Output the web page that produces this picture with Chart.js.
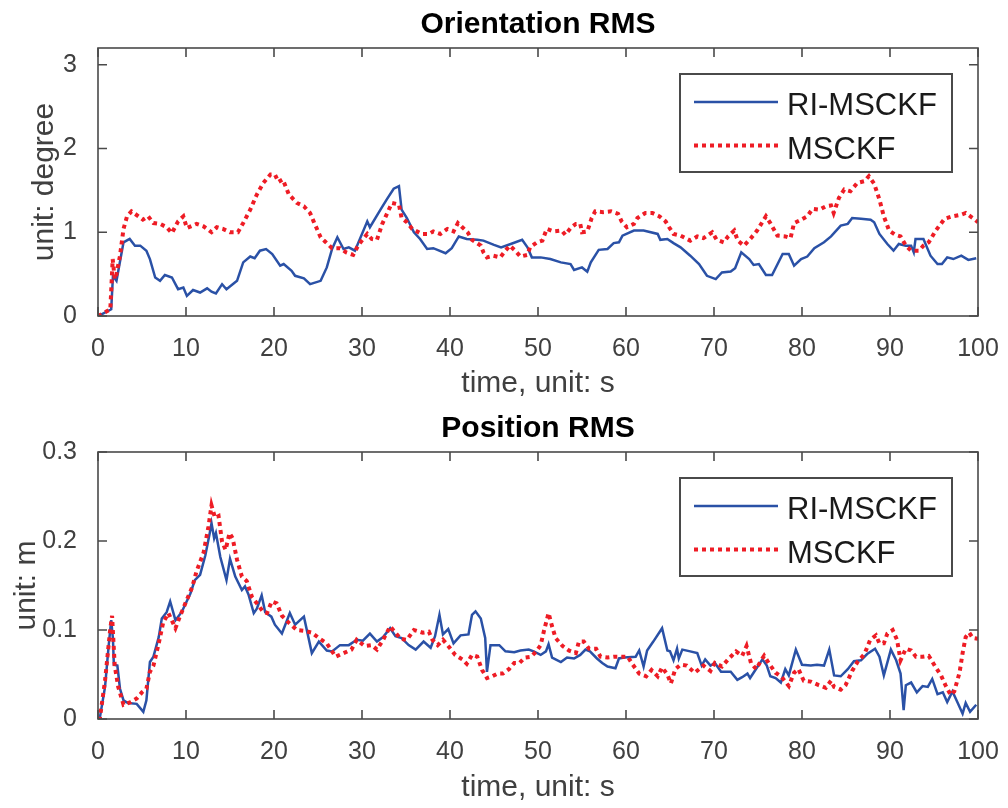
<!DOCTYPE html>
<html>
<head>
<meta charset="utf-8">
<script src="https://cdn.jsdelivr.net/npm/chart.js@4.4.0/dist/chart.umd.min.js"></script>
<style>
  html, body { margin: 0; padding: 0; background: #fff; }
  .panel { position: absolute; left: 0; width: 1008px; height: 404px; }
</style>
</head>
<body>
<div class="panel" style="top:0"><canvas id="orientChart" width="1008" height="404"></canvas></div>
<div class="panel" style="top:404px"><canvas id="posChart" width="1008" height="404"></canvas></div>
<script>
// tick labels
const timeTicks = [0, 10, 20, 30, 40, 50, 60, 70, 80, 90, 100];
const orientTicks = [0, 1, 2, 3];
const posTicks = [0, 0.1, 0.2, 0.3];

// Orientation RMS [time s, degree]
const riOrient = [[0,0],[0.4,0.02],[1.5,0.08],[1.7,0.48],[2.1,0.42],[2.9,0.88],[3.6,0.92],[4.2,0.84],[4.8,0.84],[5.5,0.78],[5.9,0.68],[6.5,0.46],[7.05,0.42],[7.6,0.49],[8.4,0.46],[9.1,0.32],[9.7,0.34],[10.1,0.24],[10.8,0.31],[11.6,0.28],[12.4,0.33],[12.9,0.29],[13.4,0.27],[14.1,0.38],[14.6,0.32],[15.8,0.42],[16.5,0.64],[17.3,0.71],[17.8,0.69],[18.4,0.78],[19.1,0.80],[19.8,0.74],[20.7,0.60],[21.1,0.62],[22.0,0.54],[22.4,0.48],[23.4,0.45],[24.1,0.38],[25.3,0.42],[26.0,0.58],[26.6,0.80],[27.2,0.94],[27.9,0.80],[28.5,0.82],[29.2,0.78],[30.6,1.13],[30.9,1.06],[32.1,1.27],[32.8,1.39],[33.6,1.52],[34.2,1.55],[34.5,1.27],[35.1,1.17],[35.9,1.00],[36.6,0.92],[37.4,0.80],[38.1,0.81],[39.5,0.75],[40.2,0.81],[41.0,0.95],[41.9,0.92],[43.1,0.91],[43.8,0.90],[45.0,0.85],[45.8,0.82],[46.9,0.86],[48.2,0.91],[48.8,0.82],[49.3,0.70],[50.3,0.70],[51.4,0.68],[52.6,0.64],[53.7,0.62],[54.1,0.55],[55.0,0.58],[55.6,0.53],[56.0,0.64],[56.9,0.79],[57.9,0.80],[58.6,0.87],[59.2,0.88],[59.6,0.96],[60.9,1.02],[62.0,1.02],[63.6,0.98],[63.9,0.91],[64.7,0.92],[65.4,0.87],[66.2,0.82],[67.3,0.72],[68.3,0.62],[69.2,0.48],[70.2,0.44],[70.9,0.52],[71.9,0.53],[72.4,0.57],[73.1,0.76],[74.0,0.68],[74.5,0.61],[75.1,0.62],[75.9,0.49],[76.6,0.49],[77.8,0.74],[78.5,0.74],[79.1,0.60],[79.9,0.68],[80.6,0.71],[81.4,0.81],[82.5,0.88],[83.3,0.95],[84.4,1.08],[85.2,1.10],[85.7,1.17],[86.7,1.16],[87.8,1.15],[88.2,1.12],[88.8,0.98],[89.7,0.86],[90.4,0.78],[91.0,0.86],[91.8,0.84],[92.4,0.84],[92.7,0.76],[92.9,0.92],[93.8,0.92],[94.6,0.72],[95.4,0.62],[95.9,0.62],[96.5,0.70],[97.2,0.68],[98.1,0.72],[98.9,0.67],[99.8,0.69]];
const msckfOrient = [[0,0],[0.4,0.02],[1.4,0.08],[1.67,0.68],[1.9,0.44],[2.1,0.5],[2.5,0.72],[2.9,1.04],[3.3,1.19],[3.8,1.25],[4.6,1.19],[5.1,1.15],[5.7,1.19],[6.3,1.11],[7.05,1.10],[7.8,1.06],[8.4,0.99],[9.1,1.13],[9.7,1.19],[10.1,1.05],[11.2,1.10],[12.0,1.07],[12.9,1.0],[13.5,1.06],[14.2,1.04],[15.0,1.0],[15.9,1.0],[16.5,1.11],[17.3,1.27],[18.05,1.45],[18.8,1.59],[19.6,1.69],[20.1,1.69],[20.5,1.6],[21.0,1.63],[21.7,1.45],[22.6,1.35],[23.4,1.31],[24.1,1.23],[24.5,1.13],[25.3,0.94],[25.8,0.89],[26.6,0.81],[27.5,0.81],[28.2,0.76],[29.0,0.73],[29.6,0.85],[30.6,0.98],[31.1,0.92],[31.7,0.91],[32.3,1.10],[32.7,1.19],[33.4,1.35],[34.2,1.33],[34.5,1.17],[35.1,1.12],[35.7,1.04],[36.8,0.98],[37.6,0.98],[38.1,1.01],[38.9,0.98],[39.7,1.04],[40.4,1.01],[40.9,1.11],[41.4,1.06],[42.0,1.0],[42.5,0.91],[43.5,0.84],[43.8,0.76],[44.2,0.70],[44.9,0.72],[45.7,0.70],[46.3,0.78],[46.8,0.84],[47.4,0.78],[48.0,0.71],[48.8,0.73],[49.1,0.82],[49.9,0.88],[50.5,0.90],[51.0,1.04],[51.8,1.01],[52.7,1.02],[53.1,0.97],[53.7,1.05],[54.3,1.10],[54.8,1.10],[55.0,1.0],[55.6,1.01],[56.1,1.17],[56.5,1.25],[57.4,1.24],[58.3,1.25],[59.1,1.22],[59.5,1.13],[60.1,1.06],[60.9,1.10],[61.3,1.17],[62.2,1.23],[63.0,1.23],[63.8,1.19],[64.5,1.13],[64.9,1.06],[65.4,0.98],[66.2,0.96],[67.3,0.90],[68.1,0.95],[68.8,0.93],[69.8,1.0],[70.3,0.91],[71.1,0.88],[71.6,0.95],[72.3,1.02],[72.7,0.90],[73.4,0.84],[74.2,0.93],[74.9,1.02],[75.9,1.19],[76.4,1.11],[77.2,0.96],[78.1,0.95],[78.7,0.93],[79.1,1.11],[79.9,1.15],[80.6,1.19],[81.2,1.28],[82.0,1.27],[82.7,1.31],[83.3,1.32],[83.6,1.23],[84.2,1.41],[84.8,1.51],[85.5,1.49],[86.3,1.59],[87.1,1.61],[87.6,1.67],[88.2,1.58],[88.8,1.39],[89.3,1.19],[89.9,1.02],[90.6,0.97],[91.2,0.95],[91.8,0.84],[92.4,0.78],[93.3,0.78],[93.8,0.84],[94.4,0.88],[95.2,1.02],[96.2,1.16],[97.1,1.19],[98.1,1.21],[98.6,1.23],[99.4,1.17],[100,1.12]];

// Position RMS [time s, m]
const riPos = [[0,0],[0.2,0.001],[0.8,0.036],[1.2,0.081],[1.5,0.111],[1.7,0.09],[1.8,0.061],[2.2,0.06],[2.5,0.034],[2.9,0.021],[3.4,0.018],[4.4,0.017],[5.15,0.008],[5.5,0.021],[5.9,0.064],[6.3,0.07],[6.9,0.092],[7.25,0.113],[7.8,0.12],[8.2,0.132],[8.8,0.111],[9.5,0.12],[10.5,0.141],[11.0,0.156],[11.6,0.162],[12.2,0.184],[12.7,0.209],[12.9,0.22],[13.2,0.203],[13.4,0.209],[13.9,0.182],[14.6,0.156],[15.0,0.18],[15.6,0.16],[16.35,0.145],[16.7,0.149],[17.1,0.14],[17.7,0.119],[18.05,0.124],[18.6,0.139],[19.0,0.12],[19.7,0.115],[20.1,0.106],[20.9,0.096],[21.8,0.119],[22.4,0.106],[23.4,0.115],[24.3,0.074],[25.1,0.087],[26.0,0.077],[26.6,0.076],[27.5,0.083],[28.5,0.083],[29.4,0.089],[30.1,0.088],[30.9,0.096],[31.7,0.087],[32.4,0.092],[33.2,0.102],[33.8,0.093],[34.5,0.091],[35.3,0.083],[36.1,0.078],[37.0,0.087],[37.8,0.08],[38.3,0.093],[38.8,0.117],[39.2,0.095],[39.8,0.101],[40.4,0.085],[41.2,0.094],[42.1,0.095],[42.5,0.117],[42.9,0.121],[43.5,0.113],[44.0,0.091],[44.2,0.053],[44.6,0.083],[45.6,0.083],[46.3,0.076],[47.3,0.075],[48.0,0.077],[48.95,0.078],[49.5,0.076],[50.3,0.072],[50.9,0.076],[51.2,0.084],[51.6,0.069],[52.6,0.064],[53.3,0.069],[54.1,0.068],[54.8,0.072],[55.4,0.078],[55.9,0.076],[56.7,0.068],[57.3,0.063],[57.9,0.059],[58.8,0.057],[59.2,0.068],[59.8,0.069],[61.1,0.07],[61.5,0.077],[62.0,0.059],[62.4,0.077],[63.1,0.087],[64.1,0.102],[64.7,0.077],[65.0,0.076],[65.4,0.066],[65.8,0.079],[66.0,0.068],[66.4,0.078],[67.3,0.076],[68.1,0.074],[68.6,0.06],[69.0,0.067],[69.6,0.06],[70.1,0.063],[70.8,0.053],[71.9,0.053],[72.65,0.044],[73.2,0.047],[73.8,0.051],[74.1,0.046],[74.7,0.055],[75.5,0.067],[76.0,0.06],[76.4,0.048],[77.0,0.046],[77.6,0.041],[78.1,0.056],[78.5,0.049],[79.3,0.078],[80.0,0.061],[81.0,0.06],[81.7,0.061],[82.5,0.06],[83.1,0.078],[83.65,0.049],[84.4,0.048],[85.2,0.056],[85.9,0.065],[86.7,0.066],[87.4,0.073],[88.3,0.079],[88.8,0.07],[89.3,0.049],[90.1,0.078],[90.7,0.066],[91.2,0.051],[91.55,0.01],[91.8,0.038],[92.4,0.041],[93.05,0.03],[93.7,0.037],[94.3,0.036],[94.8,0.045],[95.4,0.028],[96.0,0.03],[96.5,0.019],[97.1,0.031],[97.7,0.018],[98.25,0.006],[98.6,0.018],[99.1,0.008],[99.8,0.016]];
const msckfPos = [[0,0],[0.2,0],[0.8,0.043],[1.4,0.102],[1.6,0.116],[1.9,0.06],[2.3,0.036],[2.9,0.016],[3.7,0.019],[4.4,0.023],[5.0,0.03],[5.5,0.034],[5.9,0.053],[6.3,0.06],[6.9,0.085],[7.4,0.108],[8.0,0.119],[8.8,0.102],[9.3,0.115],[10.1,0.134],[10.7,0.148],[11.2,0.166],[12.0,0.187],[12.55,0.216],[12.9,0.24],[13.3,0.226],[13.7,0.228],[14.1,0.199],[14.5,0.19],[14.95,0.209],[15.3,0.203],[15.8,0.179],[16.35,0.16],[16.9,0.155],[17.5,0.137],[18.05,0.13],[18.8,0.12],[19.2,0.119],[19.75,0.132],[20.3,0.13],[20.9,0.116],[21.7,0.108],[22.6,0.1],[23.5,0.099],[24.3,0.097],[25.1,0.091],[26.0,0.085],[27.0,0.07],[27.9,0.074],[28.8,0.078],[29.4,0.089],[30.3,0.082],[31.1,0.083],[31.7,0.078],[32.4,0.089],[33.2,0.104],[33.8,0.097],[34.4,0.09],[35.1,0.089],[35.9,0.1],[36.9,0.097],[37.6,0.098],[38.0,0.089],[38.6,0.083],[39.2,0.089],[39.8,0.082],[40.6,0.072],[41.4,0.067],[41.9,0.062],[42.5,0.072],[43.1,0.07],[43.65,0.055],[44.2,0.046],[44.8,0.048],[45.4,0.051],[46.0,0.051],[46.7,0.056],[47.3,0.063],[47.9,0.063],[48.5,0.069],[49.2,0.07],[49.8,0.076],[50.3,0.083],[50.7,0.1],[51.2,0.119],[51.6,0.104],[52.0,0.091],[52.8,0.082],[53.5,0.077],[54.3,0.074],[54.65,0.087],[55.2,0.087],[55.8,0.079],[56.6,0.079],[57.1,0.07],[57.9,0.069],[58.7,0.07],[59.5,0.07],[60.2,0.07],[60.7,0.062],[61.5,0.051],[62.3,0.048],[62.9,0.055],[63.6,0.048],[64.1,0.058],[64.7,0.05],[65.1,0.04],[65.6,0.056],[66.2,0.061],[66.9,0.06],[67.8,0.052],[68.8,0.06],[69.6,0.054],[70.1,0.063],[70.9,0.059],[71.7,0.068],[72.5,0.076],[73.2,0.071],[73.7,0.082],[74.2,0.063],[74.8,0.056],[75.3,0.065],[75.7,0.071],[76.2,0.063],[77.0,0.052],[77.7,0.047],[78.5,0.037],[79.1,0.052],[79.6,0.056],[80.2,0.043],[81.0,0.042],[81.9,0.038],[82.7,0.035],[83.3,0.043],[83.65,0.036],[84.4,0.033],[84.95,0.038],[85.7,0.054],[86.3,0.064],[87.1,0.073],[87.75,0.089],[88.4,0.094],[88.8,0.085],[89.3,0.085],[89.7,0.096],[90.3,0.1],[90.8,0.089],[91.2,0.066],[91.8,0.079],[92.4,0.077],[92.95,0.07],[93.7,0.07],[94.4,0.071],[95.2,0.058],[95.8,0.049],[96.3,0.038],[96.9,0.027],[97.3,0.031],[97.9,0.052],[98.25,0.074],[98.6,0.092],[99.0,0.097],[99.4,0.091],[100,0.09]];

const BLUE = '#2a51a6';
const RED = '#ee1c25';
const AXIS = '#4a4a4a';
const TXT = '#404040';
const FAMILY = '"Liberation Sans", Arial, Helvetica, sans-serif';
Chart.defaults.font.family = FAMILY;

// Matlab style box with inward ticks on all four sides
const boxTicks = {
  id: 'boxTicks',
  afterDatasetsDraw(chart) {
    const { ctx, chartArea: a, scales: { x, y } } = chart;
    const len = 9;
    ctx.save();
    ctx.strokeStyle = AXIS;
    ctx.lineWidth = 1.6;
    ctx.beginPath();
    x.ticks.forEach(t => {
      const px = x.getPixelForValue(t.value);
      ctx.moveTo(px, a.bottom); ctx.lineTo(px, a.bottom - len);
      ctx.moveTo(px, a.top); ctx.lineTo(px, a.top + len);
    });
    y.ticks.forEach(t => {
      const py = y.getPixelForValue(t.value);
      ctx.moveTo(a.left, py); ctx.lineTo(a.left + len, py);
      ctx.moveTo(a.right, py); ctx.lineTo(a.right - len, py);
    });
    ctx.stroke();
    ctx.strokeRect(a.left, a.top, a.right - a.left, a.bottom - a.top);
    ctx.restore();
  }
};

// boxed legend, top right inside the axes
const boxLegend = {
  id: 'boxLegend',
  afterDraw(chart) {
    const { ctx, chartArea: a } = chart;
    const left = a.right - 298, top = a.top + 26, w = 272, h = 98;
    ctx.save();
    ctx.fillStyle = '#fff';
    ctx.fillRect(left, top, w, h);
    ctx.strokeStyle = AXIS;
    ctx.lineWidth = 2;
    ctx.strokeRect(left, top, w, h);
    chart.data.datasets.forEach((ds, i) => {
      const yy = top + 28 + i * 43.5;
      ctx.strokeStyle = ds.borderColor;
      ctx.lineWidth = ds.borderWidth;
      ctx.setLineDash(ds.borderDash || []);
      ctx.beginPath();
      ctx.moveTo(left + 14, yy);
      ctx.lineTo(left + 98, yy);
      ctx.stroke();
      ctx.setLineDash([]);
      ctx.fillStyle = '#1a1a1a';
      ctx.font = '31px ' + FAMILY;
      ctx.textBaseline = 'alphabetic';
      ctx.fillText(ds.label, left + 107, yy + 13.3);
    });
    ctx.restore();
  }
};

function rmsChart(id, title, yLabel, yMax, yTicks, ri, msckf, xHeight, yTitlePad) {
  return new Chart(document.getElementById(id), {
    type: 'line',
    data: {
      datasets: [
        {
          label: 'RI-MSCKF',
          data: ri.map(p => ({ x: p[0], y: p[1] })),
          borderColor: BLUE,
          borderWidth: 2.5,
          pointRadius: 0,
          tension: 0,
          order: 1,
        },
        {
          label: 'MSCKF',
          data: msckf.map(p => ({ x: p[0], y: p[1] })),
          borderColor: RED,
          borderWidth: 4,
          borderDash: [4, 4],
          pointRadius: 0,
          tension: 0,
          order: 0,
        },
      ],
    },
    options: {
      responsive: false,
      animation: false,
      devicePixelRatio: 1,
      layout: { padding: { left: 0, right: 30, top: 0, bottom: 0 } },
      plugins: {
        legend: { display: false },
        tooltip: { enabled: false },
        title: {
          display: true,
          fullSize: false,
          text: title,
          color: '#000',
          font: { size: 30, weight: 'bold' },
          padding: { top: 7, bottom: 5 },
        },
      },
      scales: {
        x: {
          type: 'linear',
          min: 0,
          max: 100,
          grid: { display: false },
          border: { display: false },
          afterBuildTicks: s => { s.ticks = timeTicks.map(v => ({ value: v })); },
          afterFit: s => { s.height = xHeight; s.paddingLeft = 0; s.paddingRight = 0; },
          ticks: { color: TXT, font: { size: 25 }, padding: 10, maxRotation: 0, autoSkip: false },
          title: { display: true, text: 'time, unit: s', color: TXT, font: { size: 30 }, padding: { top: 0, bottom: 2.5 } },
        },
        y: {
          type: 'linear',
          min: 0,
          max: yMax,
          grid: { display: false },
          border: { display: false },
          afterBuildTicks: s => { s.ticks = yTicks.map(v => ({ value: v })); },
          afterFit: s => { s.width = 98; s.paddingTop = 0; s.paddingBottom = 0; },
          ticks: { color: TXT, font: { size: 25 }, padding: 13, callback: v => String(v) },
          title: { display: true, text: yLabel, color: TXT, font: { size: 30 }, padding: { top: yTitlePad, bottom: 0 } },
        },
      },
    },
    plugins: [boxTicks, boxLegend],
  });
}

rmsChart('orientChart', 'Orientation RMS', 'unit: degree', 3.2, orientTicks, riOrient, msckfOrient, 88, 27);
rmsChart('posChart', 'Position RMS', 'unit: m', 0.3, posTicks, riPos, msckfPos, 89, 9);
</script>
</body>
</html>
